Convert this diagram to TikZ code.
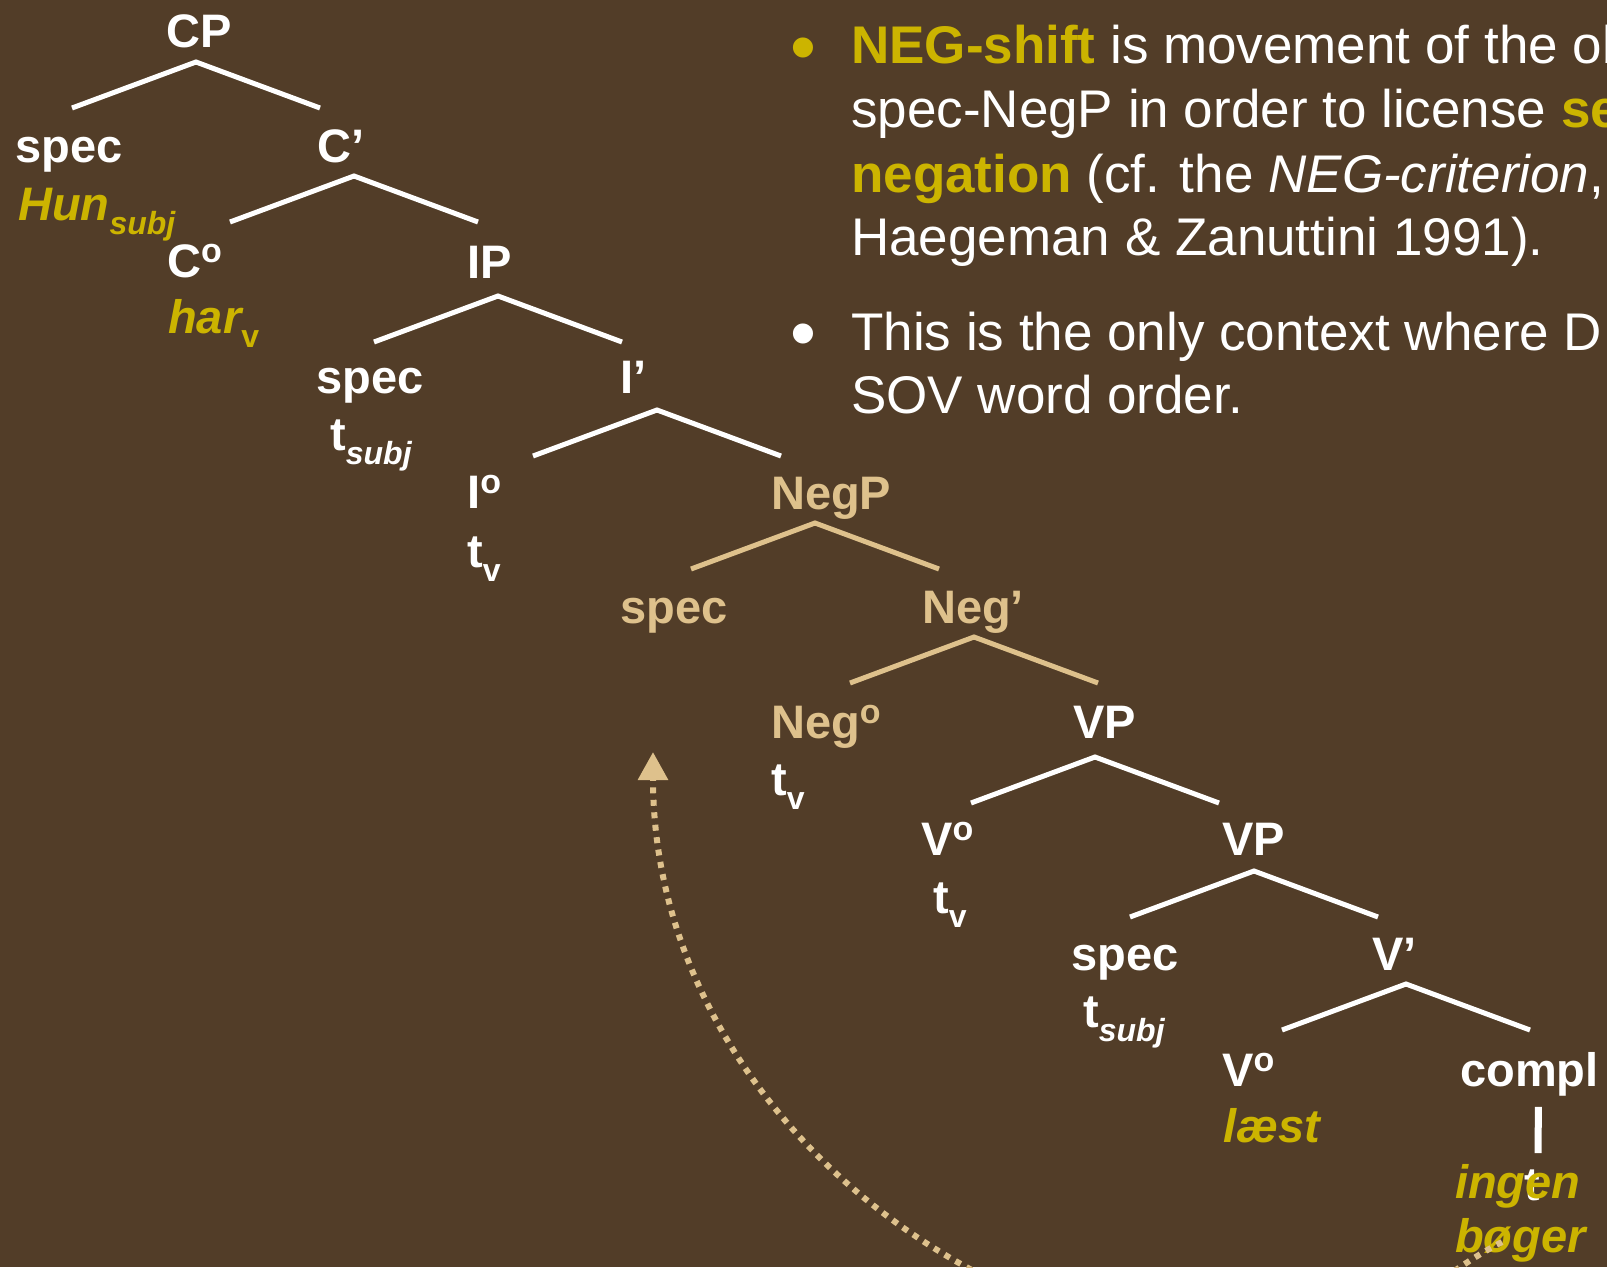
\documentclass[tikz,border=0pt]{standalone}
\usepackage{fontspec}
\setmainfont{Liberation Sans}
\usetikzlibrary{arrows.meta}

\definecolor{slidebg}{RGB}{82,61,40}
\definecolor{hilite}{RGB}{204,180,0}
\definecolor{negtan}{RGB}{222,193,140}

% raised / lowered small text for heads and traces
\newcommand\sps[1]{\raisebox{14.5pt}{\fontsize{34}{34}\selectfont #1}}
\newcommand\sbs[1]{\raisebox{-14pt}{\fontsize{32}{32}\selectfont #1}}

\tikzset{
  lbl/.style={anchor=base west, inner sep=0pt, text=white,
    font=\fontsize{47}{50}\selectfont\bfseries},
  branch/.style={line width=5pt, white},
  stem/.style={line width=7pt, white},
  say/.style={anchor=base west, inner sep=0pt, text=white,
    font=\fontsize{53}{64}\selectfont},
  blt/.style={anchor=base west, inner sep=0pt, font=\fontsize{74}{74}\selectfont},
  movearrow/.style={negtan, line width=6pt, dash pattern=on 6pt off 6.5pt,
    -{Triangle[length=28pt,width=29pt]}},
}

% one fork under a phrase: left leg, apex, right leg
\newcommand\fork[2][white]{\draw[branch,#1] (#2) ++(-124,46) -- (#2) -- ++(124,46);}

\begin{document}
\begin{tikzpicture}[x=1pt,y=-1pt]
  \fill[slidebg] (0,0) rectangle (1607,1267);
  \useasboundingbox (0,0) rectangle (1607,1267);

  % fork points
  \coordinate (cpfork) at (196,62);
  \coordinate (cbarfork) at (354,176);
  \coordinate (ipfork) at (498,296);
  \coordinate (ibarfork) at (657,410);
  \coordinate (negpfork) at (815,523);
  \coordinate (negbarfork) at (974,637);
  \coordinate (vpfork) at (1095,757);
  \coordinate (vpinfork) at (1254,871);
  \coordinate (vbarfork) at (1406,984);

  \fork{cpfork}
  \fork{cbarfork}
  \fork{ipfork}
  \fork{ibarfork}
  \fork[negtan]{negpfork}
  \fork[negtan]{negbarfork}
  \fork{vpfork}
  \fork{vpinfork}
  \fork{vbarfork}

  % CP
  \node[lbl] (cp) at (166,47) {CP};
  \node[lbl] (cpspec) at (15,162) {spec};
  \node[lbl, text=hilite] (hun) at (18,220) {\itshape Hun\sbs{subj}};
  \node[lbl] (cbar) at (317,162) {C’};
  \node[lbl] (chead) at (167,277) {C\sps{o}};
  \node[lbl, text=hilite] (har) at (168,333) {\itshape har\sbs{\upshape v}};

  % IP
  \node[lbl] (ip) at (467,278) {IP};
  \node[lbl] (ipspec) at (316,393) {spec};
  \node[lbl] (tsubja) at (330,450) {t\sbs{\itshape subj}};
  \node[lbl] (ibar) at (620,393) {I’};
  \node[lbl] (ihead) at (467,508) {I\sps{o}};
  \node[lbl] (tva) at (467,567) {t\sbs{v}};

  % NegP
  \node[lbl, text=negtan] (negp) at (771,509) {NegP};
  \node[lbl, text=negtan] (negspec) at (620,623) {spec};
  \node[lbl, text=negtan] (negbar) at (922,623) {Neg’};
  \node[lbl, text=negtan] (neghead) at (771,738) {Neg\sps{o}};
  \node[lbl] (tvb) at (771,795) {t\sbs{v}};

  % VP shell
  \node[lbl] (vp) at (1073,738) {VP};
  \node[lbl] (vheada) at (921,855) {V\sps{o}};
  \node[lbl] (tvc) at (933,913) {t\sbs{v}};
  \node[lbl] (vpin) at (1222,855) {VP};
  \node[lbl] (vpspec) at (1071,970) {spec};
  \node[lbl] (tsubjb) at (1083,1027) {t\sbs{\itshape subj}};
  \node[lbl] (vbar) at (1372,970) {V’};
  \node[lbl] (vheadb) at (1222,1086) {V\sps{o}};
  \node[lbl, text=hilite] (laest) at (1223,1142) {\itshape læst};
  \node[lbl] (compl) at (1460,1086) {compl};
  \node[lbl] (tobj) at (1524,1200) {t};
  \draw[stem] ([xshift=9pt,yshift=-11pt]compl.south) -- ([xshift=6pt,yshift=16pt]tobj.north);
  \node[lbl, text=hilite] (ingen) at (1455,1198) {\itshape ingen};
  \node[lbl, text=hilite] (boger) at (1455,1252) {\itshape bøger};

  % object moving up to spec-NegP
  \coordinate (shiftfrom) at (1502,1242);
  \coordinate (shiftto) at (653,752);
  \draw[movearrow] (shiftfrom) .. controls (1422,1283) and (1370,1352) .. (1300,1352)
    .. controls (943,1352) and (653,1083) .. (shiftto);

  % bullet points
  \node[blt, text=hilite] (dota) at (790,72) {•};
  \node[say] (linea) at (851,63) {\textcolor{hilite}{\bfseries NEG-shift} is movement of the ob};
  \node[say] (lineb) at (851,127) {spec-NegP in order to license \textcolor{hilite}{\bfseries se}};
  \node[say] (linec) at (851,192) {\textcolor{hilite}{\bfseries negation} (cf. the \textit{NEG-criterion},};
  \node[say] (lined) at (851,255) {Haegeman \& Zanuttini 1991).};
  \node[blt, text=white] (dotb) at (790,358) {•};
  \node[say] (linee) at (851,350) {This is the only context where D};
  \node[say] (linef) at (851,413) {SOV word order.};
\end{tikzpicture}
\end{document}
